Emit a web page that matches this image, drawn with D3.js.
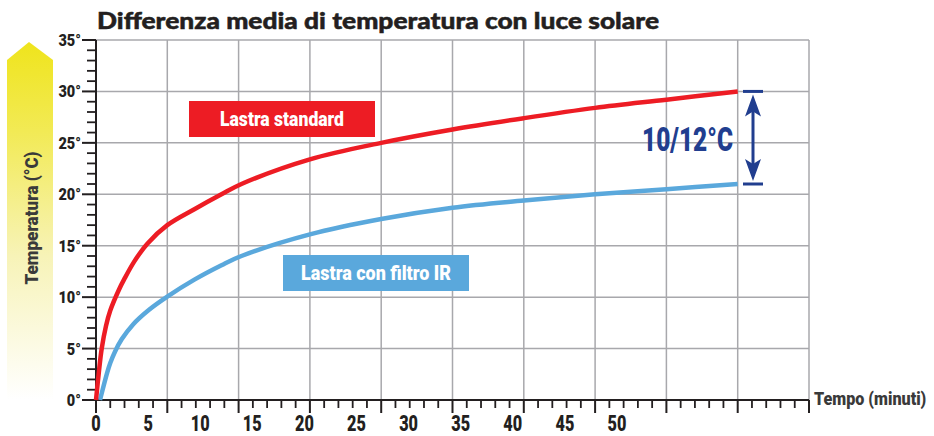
<!DOCTYPE html>
<html>
<head>
<meta charset="utf-8">
<script src="https://cdn.jsdelivr.net/npm/d3@7"></script>
<style>
  body { margin: 0; background: #fff; }
  .cond { font-family: Roboto, "Liberation Sans", sans-serif; font-weight: 900; }
</style>
</head>
<body>
<div id="chart"></div>
<script>
// time in grid units (one gridline every 5)
const redTime  = [0, 0.2, 0.4, 0.7, 1.0, 1.6, 2.0, 2.7, 3.6, 5, 6.9, 8.8, 10.2, 15, 20, 25, 30, 35, 40, 45];
const redTemp  = [0, 2.7, 5.0, 7.2, 8.7, 10.7, 11.8, 13.5, 15.2, 17.0, 18.55, 20.0, 21.0, 23.4, 25.0, 26.3, 27.4, 28.4, 29.2, 30.0];
const blueTime = [0.28, 0.77, 1.0, 1.33, 1.8, 2.6, 3.7, 5, 6.9, 8.8, 10.2, 15, 20, 25, 30, 35, 40, 45];
const blueTemp = [0, 2.6, 3.6, 4.7, 5.9, 7.35, 8.75, 10.05, 11.7, 13.1, 14.0, 16.1, 17.6, 18.7, 19.4, 20.0, 20.5, 21.0];

const xLabels = [0, 5, 10, 15, 20, 25, 30, 35, 40, 45, 50];
const yLabels = [0, 5, 10, 15, 20, 25, 30, 35];

const W = 934, H = 436;
const plotL = 96, plotR = 809, plotT = 40, plotB = 400;

const svg = d3.select("#chart")
  .append("svg")
  .attr("width", W)
  .attr("height", H);

// scales
const x = d3.scaleLinear().domain([0, 50]).range([plotL, plotR]);
const xText = d3.scaleLinear().domain([0, 50]).range([plotL, 617]); // labels sit on their own spacing
const y = d3.scaleLinear().domain([0, 35]).range([plotB, plotT]);

// yellow arrow on the left
const defs = svg.append("defs");
const grad = defs.append("linearGradient")
  .attr("id", "sun")
  .attr("x1", 0).attr("y1", 0).attr("x2", 0).attr("y2", 1);
grad.append("stop").attr("offset", "0%").attr("stop-color", "#efe41c");
grad.append("stop").attr("offset", "25%").attr("stop-color", "#f2ea55");
grad.append("stop").attr("offset", "60%").attr("stop-color", "#f7f3b8");
grad.append("stop").attr("offset", "100%").attr("stop-color", "#ffffff");

svg.append("path")
  .attr("d", "M7,60 L29,42 L53,60 L53,400 L7,400 Z")
  .attr("fill", "url(#sun)");

svg.append("text")
  .attr("class", "cond")
  .attr("transform", "translate(38,218) rotate(-90)")
  .attr("text-anchor", "middle")
  .attr("font-size", 19)
  .attr("fill", "#3a3a3a")
  .attr("textLength", 133)
  .attr("lengthAdjust", "spacingAndGlyphs")
  .text("Temperatura (°C)");

// title
svg.append("text")
  .attr("x", 97)
  .attr("y", 29)
  .attr("font-family", "Lato, 'Open Sans', sans-serif")
  .attr("font-weight", 900)
  .attr("font-size", 23)
  .attr("fill", "#231f20")
  .attr("stroke", "#231f20")
  .attr("stroke-width", 0.5)
  .attr("textLength", 562)
  .attr("lengthAdjust", "spacingAndGlyphs")
  .text("Differenza media di temperatura con luce solare");

// grid
svg.append("g")
  .selectAll("line")
  .data(d3.range(5, 51, 5))
  .join("line")
  .attr("x1", d => x(d)).attr("x2", d => x(d))
  .attr("y1", plotT).attr("y2", plotB)
  .attr("stroke", "#a8a8ac")
  .attr("stroke-width", 1.5);

svg.append("g")
  .selectAll("line")
  .data(yLabels.slice(1))
  .join("line")
  .attr("x1", plotL).attr("x2", plotR)
  .attr("y1", d => y(d)).attr("y2", d => y(d))
  .attr("stroke", "#a8a8ac")
  .attr("stroke-width", 1.5);

// x axis ticks
const xAxis = svg.append("g").attr("stroke", "#231f20");
xAxis.append("line")
  .attr("x1", 82).attr("x2", plotR)
  .attr("y1", plotB).attr("y2", plotB)
  .attr("stroke-width", 2);
xAxis.selectAll("line.tick")
  .data(d3.range(0, 51))
  .join("line")
  .attr("class", "tick")
  .attr("x1", d => x(d)).attr("x2", d => x(d))
  .attr("y1", plotB)
  .attr("y2", d => d % 5 === 0 ? 413 : 408)
  .attr("stroke-width", d => d % 5 === 0 ? 2 : 1.8);

svg.append("g")
  .selectAll("text")
  .data(xLabels)
  .join("text")
  .attr("class", "cond")
  .attr("transform", d => `translate(${xText(d)},431) scale(0.74,1)`)
  .attr("text-anchor", "middle")
  .attr("font-size", 22)
  .attr("fill", "#231f20")
  .text(d => d);

svg.append("text")
  .attr("class", "cond")
  .attr("transform", "translate(814,405) scale(0.85,1)")
  .attr("font-size", 19)
  .attr("fill", "#3a3a3a")
  .text("Tempo (minuti)");

// y axis ticks
const yAxis = svg.append("g").attr("stroke", "#231f20");
yAxis.append("line")
  .attr("x1", plotL).attr("x2", plotL)
  .attr("y1", plotT).attr("y2", 413)
  .attr("stroke-width", 2);
yAxis.selectAll("line.tick")
  .data(d3.range(0, 36))
  .join("line")
  .attr("class", "tick")
  .attr("x1", d => d % 5 === 0 ? 82 : 87)
  .attr("x2", plotL)
  .attr("y1", d => y(d)).attr("y2", d => y(d))
  .attr("stroke-width", d => d % 5 === 0 ? 2 : 1.8);

svg.append("g")
  .selectAll("text")
  .data(yLabels)
  .join("text")
  .attr("class", "cond")
  .attr("transform", d => `translate(81,${y(d)}) scale(0.88,1)`)
  .attr("dy", "0.36em")
  .attr("text-anchor", "end")
  .attr("font-size", 16.5)
  .attr("fill", "#231f20")
  .text(d => d + "°");

// curves
const line = d3.line()
  .x(d => x(d[0]))
  .y(d => y(d[1]))
  .curve(d3.curveCatmullRom.alpha(0.5));

svg.append("path")
  .datum(blueTime.map((t, i) => [t, blueTemp[i]]))
  .attr("d", line)
  .attr("fill", "none")
  .attr("stroke", "#5aa8dc")
  .attr("stroke-width", 4.5);

svg.append("path")
  .datum(redTime.map((t, i) => [t, redTemp[i]]))
  .attr("d", line)
  .attr("fill", "none")
  .attr("stroke", "#ed1c24")
  .attr("stroke-width", 4.5);

// legend boxes
function labelBox(x0, y0, w, h, color, txt, tw) {
  svg.append("rect")
    .attr("x", x0).attr("y", y0)
    .attr("width", w).attr("height", h)
    .attr("fill", color);
  svg.append("text")
    .attr("class", "cond")
    .attr("x", x0 + w / 2)
    .attr("y", y0 + h / 2 + 7)
    .attr("text-anchor", "middle")
    .attr("font-size", 20)
    .attr("fill", "#fff")
    .attr("textLength", tw)
    .attr("lengthAdjust", "spacingAndGlyphs")
    .text(txt);
}
labelBox(189, 101, 186, 36, "#ed1c24", "Lastra standard", 124);
labelBox(283, 255, 186, 36, "#5aa8dc", "Lastra con filtro IR", 150);

// difference arrow
const navy = "#213e8f";
const ax = 753;
const yTop = y(redTemp[redTemp.length - 1]);
const yBot = y(blueTemp[blueTemp.length - 1]);
const ann = svg.append("g");
ann.append("line")
  .attr("x1", 743).attr("x2", 763)
  .attr("y1", yTop).attr("y2", yTop)
  .attr("stroke", navy).attr("stroke-width", 3);
ann.append("line")
  .attr("x1", 743).attr("x2", 763)
  .attr("y1", yBot).attr("y2", yBot)
  .attr("stroke", navy).attr("stroke-width", 3);
ann.append("line")
  .attr("x1", ax).attr("x2", ax)
  .attr("y1", yTop + 18).attr("y2", yBot - 18)
  .attr("stroke", navy).attr("stroke-width", 3);
ann.append("path")
  .attr("d", `M${ax},${yTop + 3} L${ax + 8},${yTop + 25} L${ax},${yTop + 20} L${ax - 8},${yTop + 25} Z`)
  .attr("fill", navy);
ann.append("path")
  .attr("d", `M${ax},${yBot - 3} L${ax + 8},${yBot - 25} L${ax},${yBot - 20} L${ax - 8},${yBot - 25} Z`)
  .attr("fill", navy);

svg.append("text")
  .attr("class", "cond")
  .attr("x", 733)
  .attr("y", 151)
  .attr("text-anchor", "end")
  .attr("font-size", 34)
  .attr("fill", navy)
  .attr("textLength", 91)
  .attr("lengthAdjust", "spacingAndGlyphs")
  .text("10/12°C");
</script>
</body>
</html>
